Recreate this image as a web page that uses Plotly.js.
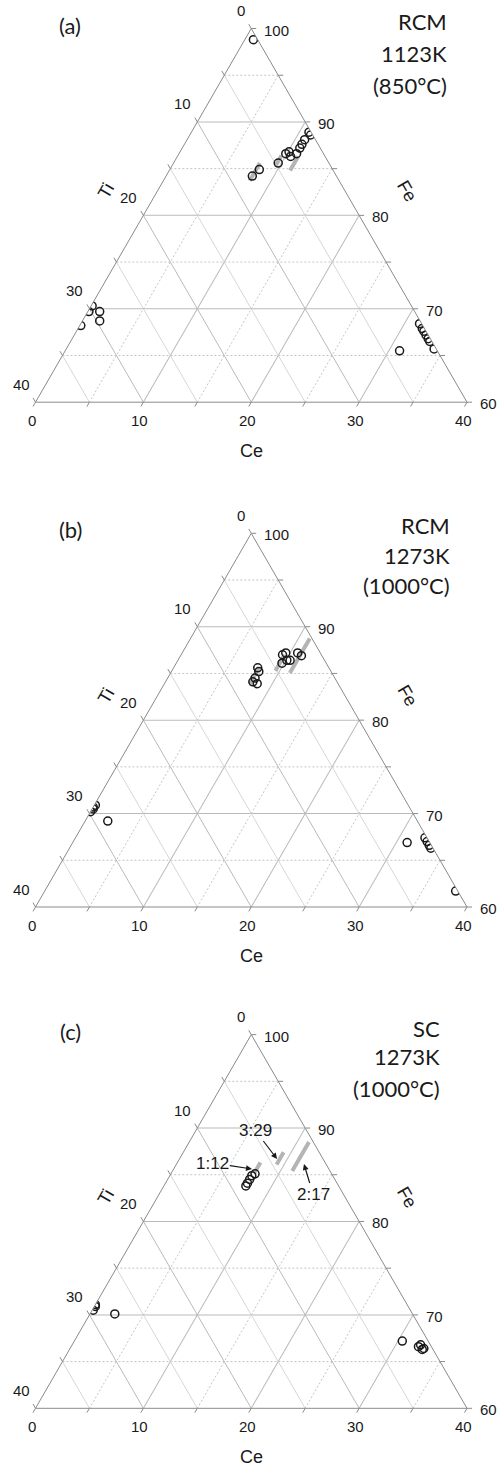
<!DOCTYPE html>
<html><head><meta charset="utf-8">
<script src="https://cdn.plot.ly/plotly-3.0.1.min.js"></script>
<style>html,body{margin:0;padding:0;background:#fff;} #chart{width:497px;height:1466px;}</style>
</head><body><div id="chart"></div>
<script>
// ---------------- data ----------------
const panelTags = ['(a)', '(b)', '(c)'];
const panelNotes = [['RCM', '1123K', '(850°C)'], ['RCM', '1273K', '(1000°C)'], ['SC', '1273K', '(1000°C)']];
const axisNames = ['Ti', 'Fe', 'Ce'];

// panel (a) RCM 1123K  (Fe, Ti, Ce in at.%)
const feA = [98.8, 84.2, 84.9, 85.6, 86.6, 86.8, 86.3, 86.6, 87.2, 87.6, 88.1, 88.9, 88.6, 70.3, 69.7, 69.7, 68.7, 68.2, 68.4, 67.9, 67.6, 67.2, 66.8, 66.5, 65.7, 65.5];
const tiA = [0.4, 7.8, 6.8, 4.7, 3.5, 3.1, 3.2, 2.5, 1.9, 1.5, 1.0, 0.2, 0.2, 29.6, 30.2, 29.2, 29.7, 31.7, 0.2, 0.2, 0.2, 0.2, 0.2, 0.2, 0.2, 3.5];
const ceA = [0.8, 8.0, 8.3, 9.7, 9.9, 10.1, 10.5, 10.9, 10.9, 10.9, 10.9, 10.9, 11.2, 0.1, 0.1, 1.1, 1.6, 0.1, 31.4, 31.9, 32.2, 32.6, 33.0, 33.3, 34.1, 31.0];

// panel (b) RCM 1273K
const feB = [85.6, 84.1, 84.5, 83.9, 85.2, 86.1, 87.0, 86.4, 86.4, 87.2, 87.2, 86.9, 70.2, 70.7, 70.9, 70.5, 69.2, 66.9, 67.4, 67.0, 66.6, 66.3, 61.7];
const tiB = [6.6, 7.8, 7.4, 7.5, 6.7, 4.1, 3.6, 3.5, 3.2, 3.2, 2.1, 1.9, 29.8, 29.3, 29.0, 29.4, 28.7, 2.1, 0.2, 0.2, 0.2, 0.2, 0.2];
const ceB = [7.8, 8.1, 8.1, 8.6, 8.1, 9.8, 9.4, 10.1, 10.4, 9.6, 10.7, 11.2, 0.0, 0.0, 0.1, 0.1, 2.1, 31.0, 32.4, 32.8, 33.2, 33.5, 38.1];

// panel (c) SC 1273K
const feC = [84.1, 84.9, 85.1, 84.5, 83.8, 70.5, 70.9, 71.1, 70.1, 67.2, 66.6, 66.8, 66.3, 66.4];
const tiC = [8.3, 7.5, 7.1, 7.9, 8.6, 29.4, 29.0, 28.9, 27.6, 2.4, 1.2, 0.9, 1.0, 0.8];
const ceC = [7.6, 7.6, 7.8, 7.6, 7.6, 0.1, 0.1, 0.0, 2.3, 30.4, 32.2, 32.3, 32.7, 32.8];

// composition lines Ce(Fe,Ti)x : Ce content and Ti range
const phaseNames = ['1:12', '3:29', '2:17'];
const phaseCeA = [8.0, 9.6, 11.2], phaseTiLoA = [6.4, 4.0, 2.5], phaseTiHiA = [8.3, 5.0, 4.0];
const phaseCeB = [7.9, 9.6, 11.05], phaseTiLoB = [6.5, 3.4, 0.2], phaseTiHiB = [8.2, 5.1, 3.9];
const phaseCeC = [7.7, 9.3, 11.1], phaseTiLoC = [6.0, 3.3, 0.4], phaseTiHiC = [7.2, 4.6, 3.5];

// axes / grid values
const minorVals = [5, 15, 25, 35];
const feMinorVals = [65, 75, 85, 95];
const tickVals = [0, 5, 10, 15, 20, 25, 30, 35, 40];
const tiLabelVals = [0, 10, 20, 30, 40];
const ceLabelVals = [0, 10, 20, 30, 40];
const feLabelVals = [100, 90, 80, 70, 60];

// ---------------- geometry helpers ----------------
const PW = 497, PH = 1466;
const X0 = 35.5, TW = 431.5, TH = TW * Math.sqrt(3) / 2;
const bottoms = [402.2, 907.0, 1408.3];
const subs = ['ternary', 'ternary2', 'ternary3'];

function toPx(k, fe, ti, ce) {
  const s = fe + ti + ce;
  const f = (fe / s * 100 - 60) / 40, c = ce / s * 100 / 40;
  return [X0 + TW * (f / 2 + c), bottoms[k] - TH * f];
}
const px = x => x / PW, py = y => 1 - y / PH;

function segTrace(k, segs, line) {
  const a = [], b = [], c = [];
  segs.forEach(s => { a.push(s[0][0], s[1][0], null); b.push(s[0][1], s[1][1], null); c.push(s[0][2], s[1][2], null); });
  return {type: 'scatterternary', subplot: subs[k], mode: 'lines', a: a, b: b, c: c,
          line: line, hoverinfo: 'skip', showlegend: false, connectgaps: false};
}

const pointsData = [[feA, tiA, ceA], [feB, tiB, ceB], [feC, tiC, ceC]];
const phaseData = [[phaseCeA, phaseTiLoA, phaseTiHiA], [phaseCeB, phaseTiLoB, phaseTiHiB], [phaseCeC, phaseTiLoC, phaseTiHiC]];

const traces = [];
const layout = {
  width: PW, height: PH, margin: {l: 0, r: 0, t: 0, b: 0},
  paper_bgcolor: '#fff', plot_bgcolor: '#fff', showlegend: false, hovermode: false,
  annotations: [], shapes: []
};

const TICKLEN = 5;
const s60 = Math.sqrt(3) / 2;
const fontTick = {family: 'Liberation Sans, Arial, sans-serif', size: 15, color: '#1a1a1a'};
const fontTxt = {family: 'Lato, Open Sans, sans-serif', size: 22, color: '#1a1a1a'};
const fontAx = {family: 'Liberation Sans, Arial, sans-serif', size: 18, color: '#1a1a1a'};

function label(x, y, text, font, xa, ya, angle) {
  layout.annotations.push({xref: 'paper', yref: 'paper', x: px(x), y: py(y), text: text, showarrow: false,
    font: font, xanchor: xa || 'center', yanchor: ya || 'middle', textangle: angle || 0, borderpad: 0, borderwidth: 0});
}
function tick(p, dx, dy) {
  layout.shapes.push({type: 'line', xref: 'paper', yref: 'paper', x0: px(p[0]), y0: py(p[1]),
    x1: px(p[0] + dx), y1: py(p[1] + dy), line: {color: '#8a8a8a', width: 1}, layer: 'above'});
}

for (let k = 0; k < 3; k++) {
  const yc = bottoms[k] - TH / 2;
  const axisCommon = {
    showline: true, linecolor: '#8a8a8a', linewidth: 1,
    showgrid: true, gridcolor: '#bababa', gridwidth: 1,
    tickmode: 'linear', tick0: 0, dtick: 10, ticks: '', showticklabels: false,
    title: {text: ' '}
  };
  layout[subs[k]] = {
    domain: {x: [X0 / PW, (X0 + TW) / PW], y: [1 - (yc + TH / 2 + 12) / PH, 1 - (yc - TH / 2 - 12) / PH]},
    sum: 100, bgcolor: '#fff',
    aaxis: Object.assign({}, axisCommon, {min: 60}),
    baxis: Object.assign({}, axisCommon, {min: 0}),
    caxis: Object.assign({}, axisCommon, {min: 0})
  };

  // minor grid: Ti (light solid), Ce and Fe (dotted)
  traces.push(segTrace(k, minorVals.map(v => [[100 - v, v, 0], [60, v, 40 - v]]), {color: '#d6d6d6', width: 1}));
  traces.push(segTrace(k, minorVals.map(v => [[100 - v, 0, v], [60, 40 - v, v]])
      .concat(feMinorVals.map(v => [[v, 100 - v, 0], [v, 0, 100 - v]])), {color: '#c4c4c4', width: 1, dash: '2px,2px'}));

  // composition lines
  const ph = phaseData[k];
  traces.push(segTrace(k, ph[0].map((ce, i) => [[100 - ce - ph[1][i], ph[1][i], ce], [100 - ce - ph[2][i], ph[2][i], ce]]),
      {color: '#b4b4b4', width: 4}));

  // measured points
  const pd = pointsData[k];
  traces.push({type: 'scatterternary', subplot: subs[k], mode: 'markers', a: pd[0], b: pd[1], c: pd[2],
    marker: {symbol: 'circle-open', size: 8, color: '#1a1a1a', line: {width: 1.5}},
    hoverinfo: 'skip', showlegend: false});

  // tick marks (outside, along grid directions)
  tickVals.forEach(v => {
    tick(toPx(k, 100 - v, v, 0), -0.5 * TICKLEN, -s60 * TICKLEN);   // Ti on left edge
    tick(toPx(k, 60, 40 - v, v), -0.5 * TICKLEN, s60 * TICKLEN);    // Ce on bottom edge
    tick(toPx(k, 100 - v, 0, v), TICKLEN, 0);                        // Fe on right edge
  });

  // tick labels
  tiLabelVals.forEach(v => { const p = toPx(k, 100 - v, v, 0); label(p[0] - 6, p[1] - 18, String(v), fontTick, 'right'); });
  ceLabelVals.forEach(v => { const p = toPx(k, 60, 40 - v, v); label(p[0] - 3.5, p[1] + 18, String(v), fontTick, 'center'); });
  feLabelVals.forEach(v => { const p = toPx(k, v, 0, 100 - v); label(p[0] + 12.5, p[1] + 1.5, String(v), fontTick, 'left'); });

  // texts
  const yt = bottoms[k] - TH;
  label(70, yt - 3.5, panelTags[k], fontTxt);
  const rx = [447, 450, 440][k];
  const ry = [[-6.8, 24.8, 56.5], [-8.3, 21.7, 51.7], [-6.3, 22.1, 53.7]][k];
  panelNotes[k].forEach((t, i) => label(rx, yt + ry[i], t, fontTxt, 'right'));
  label(106, yt + 162.5, axisNames[0], fontAx, 'center', 'middle', -60);
  label(407, yt + 162, axisNames[1], fontAx, 'center', 'middle', 60);
  label(251.5, bottoms[k] + 48.5, axisNames[2], fontAx);
}

// phase labels in panel (c): arrow tips and label centres (screen px)
const fontPh = {family: 'Liberation Sans, Arial, sans-serif', size: 17, color: '#1a1a1a'};
const phaseArrowTips = [[252, 1169], [277, 1159], [304, 1164]];
const phaseLabelAt = [[212, 1163], [255, 1130], [313, 1194]];
phaseNames.forEach((name, i) => {
  const tip = phaseArrowTips[i], lab = phaseLabelAt[i];
  layout.annotations.push({xref: 'paper', yref: 'paper', x: px(tip[0]), y: py(tip[1]),
    text: name, showarrow: true, ax: lab[0] - tip[0], ay: lab[1] - tip[1], arrowhead: 2, arrowsize: 1,
    arrowwidth: 1.2, arrowcolor: '#1a1a1a', font: fontPh, standoff: 0});
});

Plotly.newPlot('chart', traces, layout, {staticPlot: true});
</script></body></html>
